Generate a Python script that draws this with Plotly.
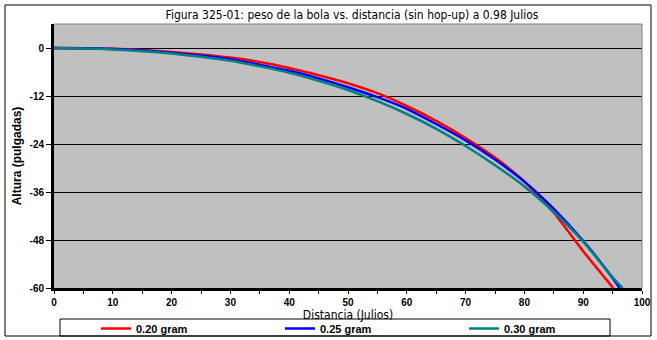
import plotly.graph_objects as go

title_text = "Figura 325-01: peso de la bola vs. distancia (sin hop-up) a 0.98 Julios"
x_title = "Distancia (Julios)"
y_title = "Altura (pulgadas)"

names = ["0.20 gram", "0.25 gram", "0.30 gram"]
colors = ["#FF0000", "#0000FF", "#008080"]

x_020 = [0, 5, 10, 15, 20, 25, 30, 35, 40, 45, 50, 55, 60, 65, 70, 75, 80, 85, 90, 95.1]
y_020 = [0, -0.05, -0.2, -0.5, -1.0, -1.6, -2.4, -3.5, -5.0, -6.8, -8.8, -11.3, -14.5, -18.2,
         -22.5, -27.4, -33.4, -41.2, -50.8, -60]

x_025 = [0, 5, 10, 15, 20, 25, 30, 35, 40, 45, 50, 55, 60, 65, 70, 75, 80, 85, 90, 95, 96.2]
y_025 = [0, -0.05, -0.25, -0.6, -1.2, -1.9, -2.8, -4.2, -5.7, -7.6, -9.8, -12.3, -15.2, -19.0,
         -23.1, -27.9, -33.4, -40.2, -48.2, -57.5, -60]

x_030 = [0, 5, 10, 15, 20, 25, 30, 35, 40, 45, 50, 55, 60, 65, 70, 75, 80, 85, 90, 95, 96.7]
y_030 = [0, -0.1, -0.35, -0.8, -1.4, -2.2, -3.2, -4.6, -6.2, -8.2, -10.5, -13.3, -16.5, -20.2,
         -24.5, -29.3, -34.6, -41.0, -48.4, -57.3, -60]

x_range = [0, 100]
y_range = [-60, 6]
y_ticks = [0, -12, -24, -36, -48, -60]
x_ticks = [0, 10, 20, 30, 40, 50, 60, 70, 80, 90, 100]

series = [(x_020, y_020), (x_025, y_025), (x_030, y_030)]

fig = go.Figure()
for (xs, ys), name, color in zip(series, names, colors):
    fig.add_trace(go.Scatter(x=xs, y=ys, mode="lines", name=name,
                             line=dict(color=color, width=2.5, shape="spline", smoothing=0.6)))

W, H = 657, 340
L, R, T, B = 54, 15, 24, 52
pw, ph = W - L - R, H - T - B

def px_x(p):
    return (p - L) / pw

def px_y(p):
    return (H - B - p) / ph

shapes = [
    # outer chart border
    dict(type="rect", xref="paper", yref="paper",
         x0=px_x(5), x1=px_x(651), y0=px_y(336), y1=px_y(5),
         line=dict(color="black", width=1), layer="below"),
    # plot-area top/right border (gray)
    dict(type="line", xref="paper", yref="paper", x0=0, x1=1, y0=1, y1=1,
         line=dict(color="#808080", width=1)),
    dict(type="line", xref="paper", yref="paper", x0=1, x1=1, y0=0, y1=1,
         line=dict(color="#808080", width=1)),
    # legend box
    dict(type="rect", xref="paper", yref="paper",
         x0=px_x(60), x1=px_x(610), y0=px_y(336), y1=px_y(319),
         line=dict(color="black", width=1), layer="below"),
]

fig.update_layout(
    width=W, height=H,
    margin=dict(l=L, r=R, t=T, b=B, autoexpand=False),
    paper_bgcolor="white",
    plot_bgcolor="#C0C0C0",
    title=dict(text=title_text, x=px_x(352), xref="paper", xanchor="center",
               y=1 - 15 / H, yref="container", yanchor="middle",
               font=dict(family="DejaVu Sans Condensed, DejaVu Sans", size=12, color="black")),
    showlegend=True,
    legend=dict(orientation="h", x=px_x(96), xanchor="left", y=px_y(314), yanchor="top",
                bgcolor="rgba(0,0,0,0)", borderwidth=0,
                entrywidth=139, entrywidthmode="pixels",
                font=dict(family="Liberation Sans", size=11, color="black", weight="bold"),
                itemwidth=30, tracegroupgap=0),
    shapes=shapes,
    xaxis=dict(range=x_range, tickvals=x_ticks, ticktext=[str(v) for v in x_ticks],
               showgrid=False, zeroline=False,
               showline=True, linecolor="black", linewidth=3,
               ticks="outside", ticklen=3, tickcolor="black", tickwidth=1,
               minor=dict(dtick=5, ticks="outside", ticklen=3, tickcolor="black", showgrid=False),
               tickfont=dict(family="Liberation Sans", size=10, color="black", weight="bold"),
               title=dict(text=x_title, standoff=0,
                          font=dict(family="DejaVu Sans Condensed, DejaVu Sans", size=12, color="black"))),
    yaxis=dict(range=y_range, tickvals=y_ticks, ticktext=[str(v) for v in y_ticks],
               showgrid=True, gridcolor="black", gridwidth=1, zeroline=False,
               showline=True, linecolor="black", linewidth=3,
               ticks="outside", ticklen=5, tickcolor="black", tickwidth=1,
               tickfont=dict(family="Liberation Sans", size=10, color="black", weight="bold"),
               title=dict(text=y_title, standoff=6,
                          font=dict(family="Liberation Sans", size=12, color="black",
                                    weight="bold"))),
)

fig.write_html("out.html")
